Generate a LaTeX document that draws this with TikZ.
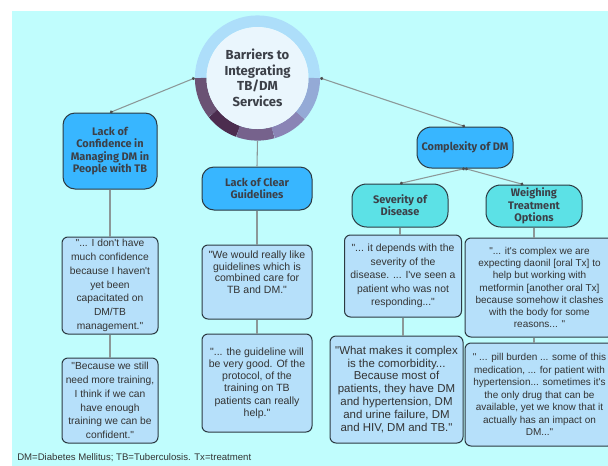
\documentclass[tikz,border=0pt]{standalone}
\usepackage{fontspec}
\setmainfont{Liberation Sans}
\newfontfamily\hfont{Fira Sans}
\newfontfamily\qfont{Liberation Sans}
\usetikzlibrary{arrows.meta,calc}
\definecolor{bgcyan}{RGB}{192,253,253}
\definecolor{headblue}{RGB}{56,182,255}
\definecolor{headteal}{RGB}{92,225,230}
\definecolor{quoteblue}{RGB}{182,224,250}
\definecolor{edgedark}{RGB}{44,58,66}
\definecolor{txtdark}{RGB}{60,64,72}
\definecolor{linkgrey}{RGB}{140,152,152}
\definecolor{ringtop}{RGB}{173,222,250}
\definecolor{ringA}{RGB}{106,82,116}
\definecolor{ringB}{RGB}{76,45,79}
\definecolor{ringC}{RGB}{118,98,140}
\definecolor{ringD}{RGB}{138,132,181}
\definecolor{ringE}{RGB}{148,170,214}
\definecolor{hubfill}{RGB}{234,246,253}
\tikzset{
  headbox/.style={draw=edgedark,line width=0.75pt,fill=headblue,rounded corners=9pt,
    align=center,font=\hfont\bfseries\fontsize{8.2}{9.2}\selectfont,text=txtdark,inner sep=1pt},
  tealbox/.style={headbox,fill=headteal},
  quotebox/.style={draw=edgedark,line width=0.75pt,fill=quoteblue,rounded corners=4.5pt,
    align=center,text=black!80,inner sep=1pt},
  link/.style={draw=linkgrey,line width=0.8pt},
  dotlink/.style={link,{Circle[length=2.2pt,color=black!70]}-{Circle[length=2.2pt,color=black!70]}},
}
\begin{document}
\begin{tikzpicture}[x=0.75pt,y=-0.75pt]
\useasboundingbox (0,0) rectangle (608,465);
\fill[white] (0,0) rectangle (608,465);
\fill[bgcyan] (12,11) rectangle (612,470);

% hub ring
\coordinate (C) at (257.5,78);
\foreach \a/\b/\c in {0/180/ringtop,180/218.7/ringA,218.7/250/ringB,250/286/ringC,286/319/ringD,319/360/ringE}{
  \draw[\c,line width=8.7pt] (C) ++(\a:42.6pt) arc[start angle=\a,end angle=\b,radius=42.6pt];
}
\fill[hubfill] (C) circle[radius=38.25pt];
\node[circle,minimum size=93.75pt,inner sep=0pt,align=center,
  font=\hfont\bfseries\fontsize{9.8}{11.6}\selectfont,text=txtdark] (hub) at (C)
  {Barriers to\\Integrating\\TB/DM\\Services};

% heading boxes
\node[headbox,minimum width=70.5pt,minimum height=57pt] (conf) at (110,151)
  {Lack of\\Confidence in\\Managing DM in\\People with TB};
\node[headbox,minimum width=82.5pt,minimum height=32.25pt] (guide) at (257,188.5)
  {Lack of Clear\\Guidelines};
\node[headbox,rounded corners=11pt,minimum width=72pt,minimum height=30.75pt] (cplx) at (465,147.5)
  {Complexity of DM};
\node[tealbox,rounded corners=11pt,minimum width=72pt,minimum height=32.25pt] (sev) at (400,205.5)
  {Severity of\\Disease};
\node[tealbox,rounded corners=11pt,minimum width=72pt,minimum height=31.5pt] (weigh) at (534,206)
  {Weighing\\Treatment\\Options};

% quote boxes
\node[quotebox,minimum width=72pt,minimum height=72.75pt,font=\qfont\fontsize{7.7}{10.3}\selectfont] (q1) at (110,285.5)
  {"... I don't have\\much confidence\\because I haven't\\yet been\\capacitated on\\DM/TB\\management."};
\node[quotebox,minimum width=72pt,minimum height=63.75pt,font=\qfont\fontsize{7.7}{10.3}\selectfont] (q2) at (110,400.5)
  {"Because we still\\need more training,\\I think if we can\\have enough\\training we can be\\confident."};
\node[quotebox,minimum width=82.5pt,minimum height=55.5pt,font=\qfont\fontsize{7.9}{8.8}\selectfont] (q3) at (257,282)
  {"We would really like\\guidelines which is\\combined care for\\TB and DM."\\[6pt]};
\node[quotebox,minimum width=82.5pt,minimum height=73.5pt,font=\qfont\fontsize{7.9}{9.2}\selectfont] (q4) at (257,383)
  {"... the guideline will\\be very good. Of the\\protocol, of the\\training on TB\\patients can really\\help."};
\node[quotebox,minimum width=87.75pt,minimum height=61.5pt,font=\qfont\fontsize{7.8}{10.2}\selectfont] (q5) at (403,276)
  {"... it depends with the\\severity of the\\disease. ... I've seen a\\patient who was not\\responding..."};
\node[quotebox,minimum width=99.75pt,minimum height=80.25pt,font=\qfont\fontsize{8.6}{9.7}\selectfont] (q6) at (396.5,389.5)
  {"What makes it complex\\is the comorbidity...\\Because most of\\patients, they have DM\\and hypertension, DM\\and urine failure, DM\\and HIV, DM and TB."};
\node[quotebox,minimum width=111.75pt,minimum height=74.25pt,font=\qfont\fontsize{7.5}{9.15}\selectfont] (q7) at (539.5,287.5)
  {"... it's complex we are\\expecting daonil [oral Tx] to\\help but working with\\metformin [another oral Tx]\\because somehow it clashes\\with the body for some\\reasons... "};
\node[quotebox,minimum width=111.75pt,minimum height=77.25pt,font=\qfont\fontsize{7.5}{9.4}\selectfont] (q8) at (539.5,394.5)
  {" ... pill burden ... some of this\\medication, ... for patient with\\hypertension... sometimes it's\\the only drug that can be\\available, yet we know that it\\actually has an impact on\\DM..."};

% connectors
\draw[dotlink] (hub.west) -- (conf.north);
\draw[dotlink] (hub.east) -- (cplx.north);
\draw[link] (hub.south) -- (guide.north);
\draw[dotlink] (cplx.south) -- (sev.north);
\draw[dotlink] (cplx.south) -- ([xshift=-8pt]weigh.north);
\draw[link] (conf.south) -- (q1.north);
\draw[link] (q1.south) -- (q2.north);
\draw[link] (guide.south) -- (q3.north);
\draw[link] (q3.south) -- (q4.north);
\draw[link] (sev.south) -- (sev.south |- q5.north);
\draw[link] (q5.south) -- (q5.south |- q6.north);
\draw[link] (weigh.south) -- (weigh.south |- q7.north);
\draw[link] (weigh.south |- q7.south) -- (weigh.south |- q8.north);

% footnote
\node[anchor=west,inner sep=0pt,font=\qfont\fontsize{7.2}{8}\selectfont,text=black!80] (foot) at (17,458)
  {DM=Diabetes Mellitus; TB=Tuberculosis. Tx=treatment};
\end{tikzpicture}
\end{document}
